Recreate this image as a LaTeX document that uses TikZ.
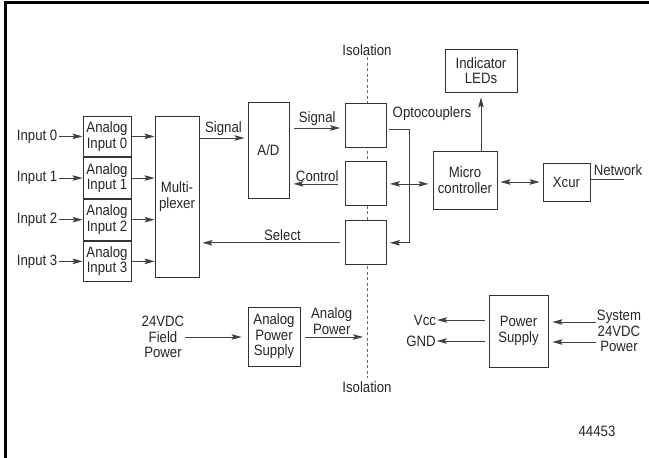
\documentclass[tikz,border=0pt]{standalone}
\usepackage{fontspec}
\setmainfont{Liberation Sans}[FakeStretch=0.88]
\usepackage{tikz}
\usetikzlibrary{arrows.meta, positioning, calc}
\newcommand{\diafont}{\fontsize{15}{15.5}\selectfont}
\tikzset{
  % Block diagram nodes
  blknode/.style={
    rectangle, draw=black!80, fill=white,
    line width=0.9pt, align=center,
    inner sep=0pt, font=\diafont, text=black!85
  },
  lblnode/.style={
    inner sep=1pt, align=center,
    font=\diafont, text=black!85
  },
  arrowstyle/.style={
    -{Stealth[length=10pt, width=5.5pt, inset=2pt]},
    line width=0.8pt, draw=black!75
  },
  dblarrow/.style={
    {Stealth[length=10pt, width=5.5pt, inset=2pt]}-{Stealth[length=10pt, width=5.5pt, inset=2pt]},
    line width=0.8pt, draw=black!75
  },
  isoline/.style={
    dash pattern=on 3pt off 2.5pt, line width=0.8pt, draw=black!60
  }
}
\begin{document}
\begin{tikzpicture}[x=1pt, y=-1pt, node distance=0pt and 24pt,
  optobox/.style={blknode, minimum width=41pt, minimum height=44pt},
  inbox/.style={blknode, minimum width=48pt, minimum height=40.75pt}]
  \useasboundingbox (0,0) rectangle (649,458);
  \draw[line width=3pt] (5.5,458) -- (5.5,2.7) -- (649,2.7);

  % Analog inputs and multiplexer
  \node[inbox] (ain0) at (107,136.4) {Analog\\Input 0};
  \node[inbox, below=0pt of ain0] (ain1) {Analog\\Input 1};
  \node[inbox, below=0pt of ain1] (ain2) {Analog\\Input 2};
  \node[inbox, below=0pt of ain2] (ain3) {Analog\\Input 3};
  \node[blknode, minimum width=44pt, minimum height=161pt] (mux) at (177,196.5) {Multi-\\plexer};
  \foreach \i in {0,...,3} {
    \node[lblnode, left=24pt of ain\i] (in\i) {Input \i};
    \draw[arrowstyle] (in\i) -- (ain\i);
    \draw[arrowstyle] (ain\i) -- (ain\i.east -| mux.west);
  }

  % Isolation barrier
  \coordinate (isotop) at (367,57);
  \coordinate (isobot) at (367,378);
  \draw[isoline] (isotop) -- (isobot);
  \node[lblnode, above=0pt of isotop] (isolbl1) {Isolation};
  \node[lblnode, below=2pt of isobot] (isolbl2) {Isolation};

  % A/D and optocouplers
  \node[blknode, minimum width=41pt, minimum height=96pt] (ad) at (268.5,150) {A/D};
  \node[optobox] (opto1) at (366,125) {};
  \node[optobox, below=14pt of opto1] (opto2) {};
  \node[optobox, below=14pt of opto2] (opto3) {};
  \node[lblnode] (optolbl) at (432,114) {Optocouplers};

  \coordinate (sigin) at ([yshift=12pt]ad.west);
  \draw[arrowstyle, shorten >=3pt] (mux.east |- sigin) -- node[lblnode, above=1pt] (siglbl1) {Signal} (sigin);
  \coordinate (sigout) at ([yshift=-3pt]opto1.west);
  \draw[arrowstyle, shorten <=5pt, shorten >=5pt] (ad.east |- sigout) -- node[lblnode, above=1pt] (siglbl2) {Signal} (sigout);
  \draw[arrowstyle, shorten <=7pt, shorten >=4pt] (opto2.west) -- node[lblnode, above=1pt] (ctllbl) {Control} (opto2.west -| ad.east);
  \draw[arrowstyle, shorten <=5pt, shorten >=3pt] (opto3.west) -- node[lblnode, above=1pt, pos=0.43] (sellbl) {Select} (opto3.west -| mux.east);
  \draw[arrowstyle, shorten <=2pt, shorten >=3pt] ([yshift=-4pt]opto1.east) -- ++(22,0) |- (opto3.east);

  % Micro controller side
  \node[blknode, minimum width=64pt, minimum height=58pt] (micro) at (465,180) {Micro\\controller};
  \node[blknode, minimum width=72pt, minimum height=43pt] (leds) at (481,70.5) {Indicator\\LEDs};
  \node[blknode, minimum width=47pt, minimum height=38pt] (xcur) at (566.5,182) {Xcur};
  \draw[dblarrow, shorten <=3pt, shorten >=4pt] (opto2.east) -- (opto2.east -| micro.west);
  \draw[arrowstyle, shorten >=5pt] (leds.south |- micro.north) -- (leds.south);
  \draw[dblarrow, shorten <=3pt, shorten >=3pt] (micro.east |- xcur.west) -- (xcur.west);
  \coordinate (netend) at (624,179);
  \draw[line width=0.8pt, draw=black!75] (xcur.east |- netend) -- (netend);
  \node[lblnode] (netlbl) at (618,170) {Network};

  % Power supplies
  \node[lblnode] (fpow) at (163,337) {24VDC\\Field\\Power};
  \node[blknode, minimum width=52pt, minimum height=59pt] (aps) at (274,336.5) {Analog\\Power\\Supply};
  \draw[arrowstyle, shorten >=6pt] (fpow) -- (fpow -| aps.west);
  \coordinate (apsout) at (363,337);
  \draw[arrowstyle, shorten <=5pt] (aps.east |- apsout) -- node[lblnode, above=1pt] (apslbl) {Analog\\Power} (apsout);

  \node[blknode, minimum width=59pt, minimum height=72pt] (ps) at (518.5,331) {Power\\Supply};
  \node[lblnode] (vcc) at (425,320) {Vcc};
  \node[lblnode] (gnd) at (421,341) {GND};
  \draw[arrowstyle, shorten <=4pt] (ps.west |- vcc) -- (vcc);
  \draw[arrowstyle, shorten <=4pt] (ps.west |- gnd) -- (gnd);
  \node[lblnode] (sys) at (619,331) {System\\24VDC\\Power};
  \coordinate (psin1) at ([yshift=9pt]ps.east);
  \coordinate (psin2) at ([yshift=-11pt]ps.east);
  \draw[arrowstyle, shorten >=4pt] (sys.west |- psin1) -- (psin1);
  \draw[arrowstyle, shorten >=4pt] (sys.west |- psin2) -- (psin2);

  \node[lblnode] (fignum) at (597,431) {44453};

\end{tikzpicture}
\end{document}
